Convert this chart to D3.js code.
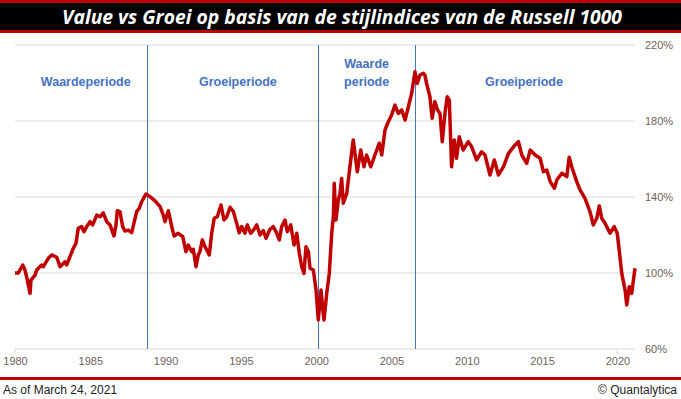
<!DOCTYPE html>
<html>
<meta charset="utf-8">
<head>
    <script src="https://d3js.org/d3.v7.min.js"></script>
    <style>
        body { margin: 0; background: white; }
        svg { display: block; }
    </style>
</head>
<body>
    <script>

        // ratio value / growth (Russell 1000), start 1980 = 100%
        var years = [1980.00, 1980.22, 1980.51, 1980.66, 1980.82, 1981.00, 1981.06, 1981.33, 1981.44, 1981.77,
            1981.88, 1982.21, 1982.44, 1982.77, 1982.99, 1983.32, 1983.43, 1983.65, 1983.87, 1984.05,
            1984.20, 1984.43, 1984.58, 1984.76, 1984.98, 1985.16, 1985.43, 1985.64, 1985.86, 1986.09,
            1986.31, 1986.57, 1986.71, 1986.79, 1986.97, 1987.15, 1987.30, 1987.52, 1987.75, 1987.90,
            1988.08, 1988.25, 1988.41, 1988.70, 1988.96, 1989.30, 1989.63, 1989.85, 1989.96, 1990.18,
            1990.41, 1990.56, 1990.84, 1991.14, 1991.35, 1991.51, 1991.73, 1991.84, 1992.02, 1992.17,
            1992.28, 1992.44, 1992.62, 1992.90, 1993.06, 1993.23, 1993.43, 1993.68, 1993.88, 1994.06,
            1994.28, 1994.50, 1994.72, 1994.89, 1995.05, 1995.27, 1995.42, 1995.65, 1995.87, 1996.05,
            1996.27, 1996.49, 1996.67, 1996.93, 1997.15, 1997.38, 1997.55, 1997.71, 1997.93, 1998.08,
            1998.31, 1998.53, 1998.71, 1998.88, 1999.04, 1999.19, 1999.32, 1999.48, 1999.59, 1999.81,
            1999.99, 2000.14, 2000.32, 2000.43, 2000.52, 2000.70, 2000.87, 2001.03, 2001.14, 2001.20,
            2001.31, 2001.47, 2001.58, 2001.69, 2001.80, 2002.03, 2002.24, 2002.46, 2002.73, 2002.96,
            2003.17, 2003.35, 2003.62, 2003.90, 2004.19, 2004.35, 2004.57, 2004.79, 2005.01, 2005.23,
            2005.45, 2005.68, 2005.90, 2006.12, 2006.34, 2006.56, 2006.71, 2006.89, 2007.11, 2007.22,
            2007.33, 2007.55, 2007.70, 2007.88, 2008.06, 2008.22, 2008.37, 2008.55, 2008.70, 2008.84,
            2008.99, 2009.17, 2009.32, 2009.50, 2009.76, 2010.10, 2010.32, 2010.65, 2010.98, 2011.21,
            2011.54, 2011.83, 2012.10, 2012.43, 2012.77, 2013.21, 2013.43, 2013.65, 2013.98, 2014.21,
            2014.54, 2014.87, 2015.09, 2015.31, 2015.54, 2015.82, 2015.98, 2016.31, 2016.64, 2016.80,
            2016.97, 2017.30, 2017.52, 2017.85, 2018.18, 2018.40, 2018.63, 2018.80, 2018.96, 2019.18,
            2019.51, 2019.79, 2019.99, 2020.17, 2020.29, 2020.51, 2020.62, 2020.79, 2020.95, 2021.17];

        var values = [100.0, 100.0, 104.2, 101.6, 96.3, 89.3, 96.3, 98.9, 101.6, 104.2,
            103.3, 107.7, 109.5, 108.3, 103.3, 105.9, 104.2, 108.6, 113.0, 115.6,
            123.5, 124.4, 121.7, 124.4, 127.0, 125.3, 130.5, 129.6, 131.7, 127.0,
            125.3, 119.5, 125.3, 132.8, 132.3, 124.4, 122.1, 122.6, 121.2, 126.2,
            132.3, 134.0, 137.5, 141.6, 140.2, 138.0, 134.9, 130.5, 127.0, 132.8,
            124.4, 119.5, 120.9, 119.1, 111.2, 114.7, 111.2, 112.5, 103.3, 109.5,
            111.2, 117.4, 113.8, 109.5, 120.9, 128.8, 129.6, 135.8, 127.9, 129.6,
            134.6, 132.3, 126.2, 121.2, 124.4, 120.9, 125.3, 120.9, 123.0, 125.3,
            120.0, 122.3, 118.3, 123.0, 124.4, 120.9, 117.4, 124.4, 127.9, 121.7,
            125.3, 114.7, 120.9, 110.4, 103.3, 99.8, 113.8, 111.2, 102.5, 101.6,
            91.1, 75.3, 91.1, 81.4, 75.3, 89.3, 99.8, 120.9, 129.6, 147.2,
            127.9, 138.4, 141.9, 149.8, 136.7, 141.9, 155.9, 170.0, 153.3, 164.7,
            155.9, 162.1, 155.9, 162.1, 168.3, 162.1, 175.3, 179.6, 183.2, 188.4,
            184.0, 185.8, 180.5, 187.5, 194.6, 205.9, 199.8, 204.2, 205.1, 204.2,
            199.8, 192.8, 181.4, 190.2, 185.8, 184.0, 169.1, 184.0, 192.8, 191.0,
            155.9, 170.0, 160.4, 171.7, 164.7, 169.1, 166.5, 159.5, 163.8, 162.1,
            151.6, 159.5, 151.6, 155.9, 163.0, 167.4, 169.1, 162.1, 157.7, 164.7,
            162.1, 160.4, 153.3, 154.2, 148.1, 144.6, 148.9, 152.5, 150.7, 160.9,
            155.9, 148.1, 143.7, 139.3, 132.3, 125.3, 128.8, 135.3, 128.8, 126.2,
            120.9, 124.4, 120.9, 108.6, 99.8, 91.1, 83.2, 92.8, 89.3, 102.5];

        var xTicks = [1980, 1985, 1990, 1995, 2000, 2005, 2010, 2015, 2020];
        var yTicks = [60, 100, 140, 180, 220];

        // regime boundaries
        var periodLines = [1988.77, 2000.1, 2006.58];
        var periodLabels = [
            {year: 1984.7, lines: ["Waardeperiode"]},
            {year: 1994.8, lines: ["Groeiperiode"]},
            {year: 2003.35, lines: ["Waarde", "periode"]},
            {year: 2013.8, lines: ["Groeiperiode"]}
        ];

        var width = 681,
            height = 399;

        var svg = d3.select("body").append("svg")
            .attr("width", width)
            .attr("height", height);

        var x = d3.scaleLinear()
            .domain([1980, 2021.17])
            .range([15, 635]);

        var y = d3.scaleLinear()
            .domain([60, 220])
            .range([349, 45]);

        // title bar
        svg.append("rect")
            .attr("x", 0).attr("y", 0)
            .attr("width", width).attr("height", 33)
            .attr("fill", "#c00000");
        svg.append("rect")
            .attr("x", 0).attr("y", 3)
            .attr("width", width).attr("height", 27)
            .attr("fill", "#000");
        svg.append("text")
            .attr("x", 342).attr("y", 24)
            .attr("text-anchor", "middle")
            .attr("textLength", 560)
            .attr("lengthAdjust", "spacingAndGlyphs")
            .style("font-family", "'Open Sans', sans-serif")
            .style("font-weight", "bold")
            .style("font-style", "italic")
            .style("font-size", "20px")
            .attr("fill", "white")
            .text("Value vs Groei op basis van de stijlindices van de Russell 1000");

        // grid
        svg.append("g").selectAll("line")
            .data(yTicks)
            .enter()
            .append("line")
            .attr("x1", 15).attr("x2", 635)
            .attr("y1", d => y(d)).attr("y2", d => y(d))
            .attr("stroke", "#d9d9d9")
            .attr("stroke-width", 1);

        // right axis labels
        var yAxis = d3.axisRight(y)
            .tickValues(yTicks)
            .tickSize(0)
            .tickPadding(0)
            .tickFormat(d => d + "%");
        var gy = svg.append("g")
            .attr("transform", "translate(645,0)")
            .call(yAxis);
        gy.select(".domain").remove();
        gy.selectAll("text")
            .attr("fill", "#6e6259")
            .style("font-family", "'Liberation Sans', Arial, sans-serif")
            .style("font-size", "11px");

        // bottom axis
        var xAxis = d3.axisBottom(x)
            .tickValues(xTicks)
            .tickSize(0)
            .tickPadding(8)
            .tickFormat(d3.format("d"));
        var gx = svg.append("g")
            .attr("transform", "translate(0,349)")
            .call(xAxis);
        gx.select(".domain").remove();
        gx.selectAll("text")
            .attr("fill", "#6e6259")
            .style("font-family", "'Liberation Sans', Arial, sans-serif")
            .style("font-size", "11px");

        svg.append("g").selectAll("line")
            .data([1980, 2020])
            .enter()
            .append("line")
            .attr("x1", d => x(d)).attr("x2", d => x(d))
            .attr("y1", 349).attr("y2", 354)
            .attr("stroke", "#d9d9d9");

        // period lines
        svg.append("g").selectAll("line")
            .data(periodLines)
            .enter()
            .append("line")
            .attr("x1", d => Math.round(x(d)) + 0.5).attr("x2", d => Math.round(x(d)) + 0.5)
            .attr("y1", y(220)).attr("y2", y(60))
            .attr("stroke", "#4472c4")
            .attr("stroke-width", 1);

        var lab = svg.append("g").selectAll("text")
            .data(periodLabels)
            .enter()
            .append("text")
            .attr("text-anchor", "middle")
            .attr("fill", "#4472c4")
            .style("font-family", "'Liberation Sans', Arial, sans-serif")
            .style("font-weight", "bold")
            .style("font-size", "12.5px");
        lab.each(function(d) {
            var t = d3.select(this);
            var y0 = d.lines.length > 1 ? 68 : 86;
            d.lines.forEach(function(s, i) {
                t.append("tspan")
                    .attr("x", x(d.year))
                    .attr("y", y0 + i * 18)
                    .text(s);
            });
        });

        // the series
        var pts = years.map((yr, i) => [yr, values[i]]);
        var line = d3.line()
            .x(d => x(d[0]))
            .y(d => y(d[1]));
        svg.append("path")
            .datum(pts)
            .attr("d", line)
            .attr("fill", "none")
            .attr("stroke", "#c00000")
            .attr("stroke-width", 3.5)
            .attr("stroke-linejoin", "round");

        // footer
        svg.append("rect")
            .attr("x", 0).attr("y", 377)
            .attr("width", width).attr("height", 3)
            .attr("fill", "#c00000");
        svg.append("text")
            .attr("x", 3).attr("y", 394)
            .style("font-family", "'Liberation Sans', Arial, sans-serif")
            .style("font-size", "12px")
            .attr("fill", "#222")
            .text("As of March 24, 2021");
        svg.append("text")
            .attr("x", 677).attr("y", 394)
            .attr("text-anchor", "end")
            .style("font-family", "'Liberation Sans', Arial, sans-serif")
            .style("font-size", "12px")
            .attr("fill", "#222")
            .text("\u00a9 Quantalytica");

    </script>
</body>
</html>
